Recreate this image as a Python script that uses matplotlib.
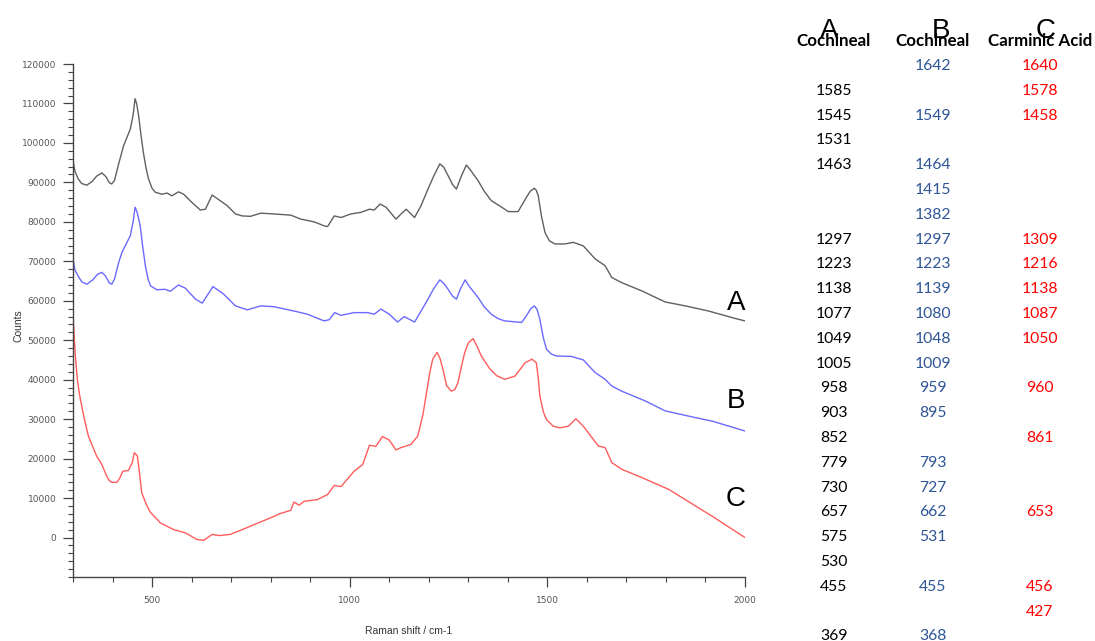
import numpy as np
import matplotlib
matplotlib.use('Agg')
import matplotlib.pyplot as plt
from matplotlib.ticker import MultipleLocator, FixedLocator, FuncFormatter

#------------------------------------------------------------------------
# Raman spectra (Raman shift / cm-1, counts)
# A: cochineal, B: cochineal, C: carminic acid
xa = [300, 305, 313, 322, 335, 348, 360, 373, 383, 392, 398, 405, 415, 428, 445,
      452, 457, 461, 466, 472, 478, 485, 491, 500, 508, 525, 538, 550, 567, 580,
      601, 622, 635, 652, 669, 690, 711, 728, 749, 775, 808, 851, 876, 910, 935,
      944, 961, 978, 1003, 1028, 1050, 1062, 1077, 1092, 1117, 1130, 1143, 1164,
      1180, 1198, 1212, 1228, 1238, 1249, 1260, 1270, 1282, 1295, 1305, 1325,
      1340, 1358, 1380, 1401, 1426, 1437, 1447, 1457, 1467, 1472, 1477, 1485,
      1494, 1505, 1519, 1544, 1566, 1591, 1621, 1646, 1663, 1688, 1739, 1798,
      1849, 1908, 1976, 2000]
ya = [95500, 92800, 90900, 89700, 89300, 90200, 91600, 92400, 91500, 89900,
      89600, 90500, 94500, 99300, 103500, 107000, 111200, 110000, 106900,
      102000, 97600, 93500, 90900, 88500, 87500, 87000, 87300, 86600, 87600,
      87000, 84900, 83000, 83200, 86800, 85600, 84100, 82000, 81500, 81400,
      82200, 82000, 81700, 80700, 80000, 79000, 78800, 81500, 81100, 82000,
      82400, 83200, 83000, 84500, 83700, 80700, 82000, 83200, 81100, 84000,
      88300, 91500, 94700, 93800, 91700, 89500, 88300, 91500, 94400, 93200,
      90400, 87800, 85400, 84000, 82600, 82600, 84500, 86200, 87800, 88500,
      88000, 86600, 81500, 77300, 75200, 74400, 74400, 74800, 73900, 70600,
      68900, 65900, 64600, 62500, 59700, 58700, 57400, 55500, 54900]

xb = [300, 305, 313, 322, 335, 350, 362, 373, 382, 392, 398, 405, 415, 424, 445,
      452, 457, 462, 470, 476, 483, 490, 496, 512, 533, 546, 567, 584, 610, 627,
      654, 681, 711, 741, 775, 808, 859, 893, 935, 948, 962, 978, 1011, 1045,
      1062, 1079, 1100, 1121, 1138, 1164, 1180, 1198, 1212, 1228, 1238, 1249,
      1260, 1270, 1280, 1292, 1302, 1325, 1340, 1358, 1375, 1392, 1435, 1447,
      1458, 1467, 1474, 1481, 1490, 1498, 1510, 1523, 1561, 1591, 1621, 1646,
      1663, 1688, 1748, 1798, 1874, 1917, 2000]
yb = [70600, 67800, 66300, 64800, 64200, 65300, 66700, 67200, 66300, 64500,
      64200, 65500, 69500, 72300, 76500, 80000, 83700, 82500, 79000, 74000,
      68900, 65500, 63800, 62800, 62900, 62400, 64000, 63200, 60400, 59400,
      63600, 61700, 58700, 57700, 58700, 58500, 57400, 56600, 54900, 55200,
      57000, 56300, 57000, 57000, 56600, 57900, 56600, 54600, 56000, 54600,
      57300, 60400, 63000, 65300, 64400, 62900, 61200, 60400, 63000, 65300,
      63700, 60800, 58500, 56600, 55500, 54900, 54500, 56200, 58000, 58700,
      57800, 55300, 50500, 47700, 46500, 46000, 45900, 45000, 41800, 40100,
      38400, 37100, 34600, 32100, 30400, 29500, 27000]

xc = [300, 302, 306, 311, 316, 322, 330, 339, 350, 360, 373, 385, 392, 398, 411,
      418, 426, 440, 450, 455, 460, 463, 468, 474, 485, 495, 521, 555, 584, 614,
      631, 652, 669, 698, 728, 766, 800, 825, 851, 859, 872, 885, 918, 944, 961,
      978, 1011, 1033, 1050, 1066, 1083, 1100, 1117, 1130, 1155, 1172, 1185,
      1193, 1203, 1210, 1221, 1228, 1236, 1245, 1257, 1266, 1274, 1283, 1291,
      1300, 1312, 1322, 1333, 1354, 1372, 1392, 1418, 1444, 1461, 1472, 1477,
      1481, 1490, 1498, 1515, 1532, 1553, 1572, 1591, 1629, 1646, 1663, 1688,
      1739, 1807, 1849, 1917, 2000]
yc = [56200, 52800, 46000, 40100, 36500, 33300, 29500, 25700, 23000, 20600,
      18500, 15600, 14400, 14000, 14000, 15000, 16800, 17000, 19000, 21500,
      21000, 20600, 16500, 11300, 8500, 6500, 3700, 2000, 1200, -500, -700,
      800, 500, 800, 2000, 3600, 5000, 6100, 6900, 9000, 8200, 9200, 9600,
      10900, 13200, 12900, 16800, 18500, 23400, 23100, 25600, 24700, 22200,
      22800, 23600, 25700, 31000, 35900, 42000, 45200, 46900, 45500, 42600,
      38500, 37100, 37500, 39300, 43500, 46900, 49300, 50400, 48500, 46000,
      42800, 41000, 40100, 40900, 44300, 45200, 44300, 40500, 35900, 31800,
      29900, 28200, 27800, 28200, 30100, 28200, 23200, 22800, 19000, 17300,
      15200, 12200, 9600, 5400, 0]

# band positions (cm-1) for each sample
col_titles = ['Cochineal', 'Cochineal', 'Carminic Acid']
col_letters = ['A', 'B', 'C']
bands_a = ['', '1585', '1545', '1531', '1463', '', '', '1297', '1223', '1138',
           '1077', '1049', '1005', '958', '903', '852', '779', '730', '657',
           '575', '530', '455', '', '369']
bands_b = ['1642', '', '1549', '', '1464', '1415', '1382', '1297', '1223',
           '1139', '1080', '1048', '1009', '959', '895', '', '793', '727',
           '662', '531', '', '455', '', '368']
bands_c = ['1640', '1578', '1458', '', '', '', '', '1309', '1216', '1138',
           '1087', '1050', '', '960', '', '861', '', '', '653', '', '', '456',
           '427', '']

#------------------------------------------------------------------------
W, H = 1095, 641
fig = plt.figure(figsize=(W/100, H/100), dpi=100)
ax = fig.add_axes([73/W, 1-577/H, 672/W, 513/H])

ax.plot(xa, ya, color='#606060', lw=1.0)
ax.plot(xb, yb, color='#6a6aff', lw=1.0)
ax.plot(xc, yc, color='#ff5c5c', lw=1.0)

for lab, yv in zip(col_letters, [59500, 34500, 9700]):
    ax.text(1977, yv, lab, fontsize=20, family='Liberation Sans',
            ha='center', va='center')

ax.set_xlim(300, 2000)
ax.set_ylim(-10000, 120000)
ax.xaxis.set_major_locator(MultipleLocator(500))
ax.xaxis.set_minor_locator(MultipleLocator(100))
ax.yaxis.set_major_locator(FixedLocator(np.arange(0, 120001, 10000)))
ax.yaxis.set_minor_locator(MultipleLocator(2000))
ax.yaxis.set_major_formatter(FuncFormatter(lambda v, p: '%d' % v))

for s in ['top', 'right']:
    ax.spines[s].set_visible(False)
for s in ['left', 'bottom']:
    ax.spines[s].set_color('#444444')
    ax.spines[s].set_linewidth(1.0)
ax.tick_params(which='major', length=7, width=0.9, color='#444444',
               labelsize=6.5, labelcolor='#555555')
ax.tick_params(which='minor', length=3.5, width=0.8, color='#444444')
ax.tick_params(axis='y', pad=5)
ax.tick_params(axis='x', pad=7)

ax.set_xlabel('Raman shift / cm-1', fontsize=7.5, color='#333333',
              family='Liberation Sans', labelpad=15)
ax.set_ylabel('Counts', fontsize=7.5, color='#333333',
              family='Liberation Sans')
ax.yaxis.set_label_coords(-0.074, 0.49)

#------------------------------------------------------------------------
# band table on the right
col_x = [834, 933, 1040]
letter_x = [829, 941, 1046]
col_colors = ['#000000', '#2f5597', '#ff0000']
for cx, lx, letter, title in zip(col_x, letter_x, col_letters, col_titles):
    fig.text(lx/W, 1-31/H, letter, fontsize=20, family='Liberation Sans',
             ha='center', va='center')
    fig.text(cx/W, 1-41/H, title, fontsize=12.2, family='Lato',
             fontweight='bold', ha='center', va='center')

for cx, col, bands in zip(col_x, col_colors, [bands_a, bands_b, bands_c]):
    for i, b in enumerate(bands):
        if b:
            fig.text(cx/W, 1-(66 + 24.8*i)/H, b, fontsize=11.3, family='Lato',
                     color=col, ha='center', va='center')

plt.savefig('out.png', dpi=100)
